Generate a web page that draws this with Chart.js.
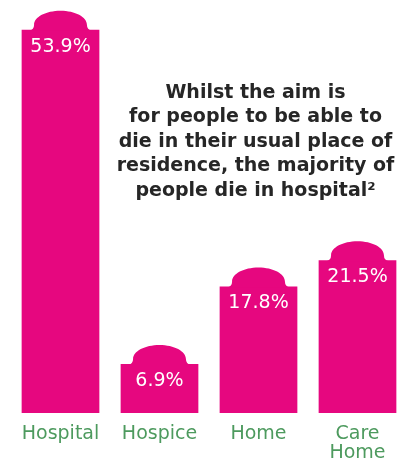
<!DOCTYPE html>
<html>
<head>
<meta charset="utf-8">
<title>Place of death</title>
<script src="https://cdn.jsdelivr.net/npm/chart.js@4/dist/chart.umd.min.js"></script>
<style>
  html, body { margin: 0; padding: 0; background: #fff; overflow: hidden; }
  #wrap { position: relative; width: 408px; height: 464px; }
</style>
</head>
<body>
<div id="wrap"><canvas id="deathChart"></canvas></div>
<script>
// Where people die (share of deaths, %)
const categories = ['Hospital', 'Hospice', 'Home', ['Care', 'Home']];
const shares = [53.9, 6.9, 17.8, 21.5];
const noteLines = [
  'Whilst the aim is',
  'for people to be able to',
  'die in their usual place of',
  'residence, the majority of',
  'people die in hospital\u00B2'
];

const PINK = '#e6077f';
const GREEN = '#4d9a5e';

// Rounded "bell" cap on each bar plus the value label inside it
const domePlugin = {
  id: 'domes',
  afterDatasetsDraw(chart) {
    const ctx = chart.ctx;
    const meta = chart.getDatasetMeta(0);
    ctx.save();
    meta.data.forEach((bar, i) => {
      const x = bar.x, y = bar.y;
      const hw = bar.width * 0.34;
      const h = 19;
      const f = 5;
      const k = 0.5523;
      ctx.fillStyle = PINK;
      ctx.beginPath();
      ctx.moveTo(x - hw - f, y + 1);
      ctx.quadraticCurveTo(x - hw, y, x - hw, y - 5);
      ctx.bezierCurveTo(x - hw, y - 5 - (h - 5) * k, x - hw * k, y - h, x, y - h);
      ctx.bezierCurveTo(x + hw * k, y - h, x + hw, y - 5 - (h - 5) * k, x + hw, y - 5);
      ctx.quadraticCurveTo(x + hw, y, x + hw + f, y + 1);
      ctx.closePath();
      ctx.fill();

      ctx.fillStyle = '#ffffff';
      ctx.font = '19px "DejaVu Sans"';
      ctx.textAlign = 'center';
      ctx.textBaseline = 'middle';
      ctx.fillText(shares[i].toFixed(1) + '%', x, y + 17);
    });
    ctx.restore();
  }
};

// Note text to the right of the tall bar
const notePlugin = {
  id: 'note',
  afterDraw(chart) {
    const ctx = chart.ctx;
    const cx = chart.scales.x.getPixelForValue(2) - 3;
    ctx.save();
    ctx.fillStyle = '#262626';
    ctx.font = 'bold 19px "DejaVu Sans"';
    ctx.textAlign = 'center';
    ctx.textBaseline = 'middle';
    noteLines.forEach((line, i) => {
      ctx.fillText(line, cx, 93 + i * 24.5);
    });
    ctx.restore();
  }
};

const ctx = document.getElementById('deathChart').getContext('2d');
new Chart(ctx, {
  type: 'bar',
  data: {
    labels: categories,
    datasets: [{
      data: shares,
      backgroundColor: PINK,
      borderWidth: 0,
      barPercentage: 0.785,
      categoryPercentage: 1
    }]
  },
  options: {
    responsive: true,
    maintainAspectRatio: false,
    animation: false,
    layout: { padding: { left: 11, right: 1, top: 0, bottom: 0 } },
    plugins: {
      legend: { display: false },
      tooltip: { enabled: false }
    },
    scales: {
      x: {
        grid: { display: false, drawTicks: false },
        border: { display: false },
        ticks: {
          color: GREEN,
          font: { family: 'DejaVu Sans', size: 19, lineHeight: 1.0 },
          padding: 12,
          maxRotation: 0,
          autoSkip: false
        },
        afterFit(scale) { scale.height = 51; }
      },
      y: {
        display: false,
        min: 0,
        max: 58.1
      }
    }
  },
  plugins: [domePlugin, notePlugin]
});
</script>
</body>
</html>
